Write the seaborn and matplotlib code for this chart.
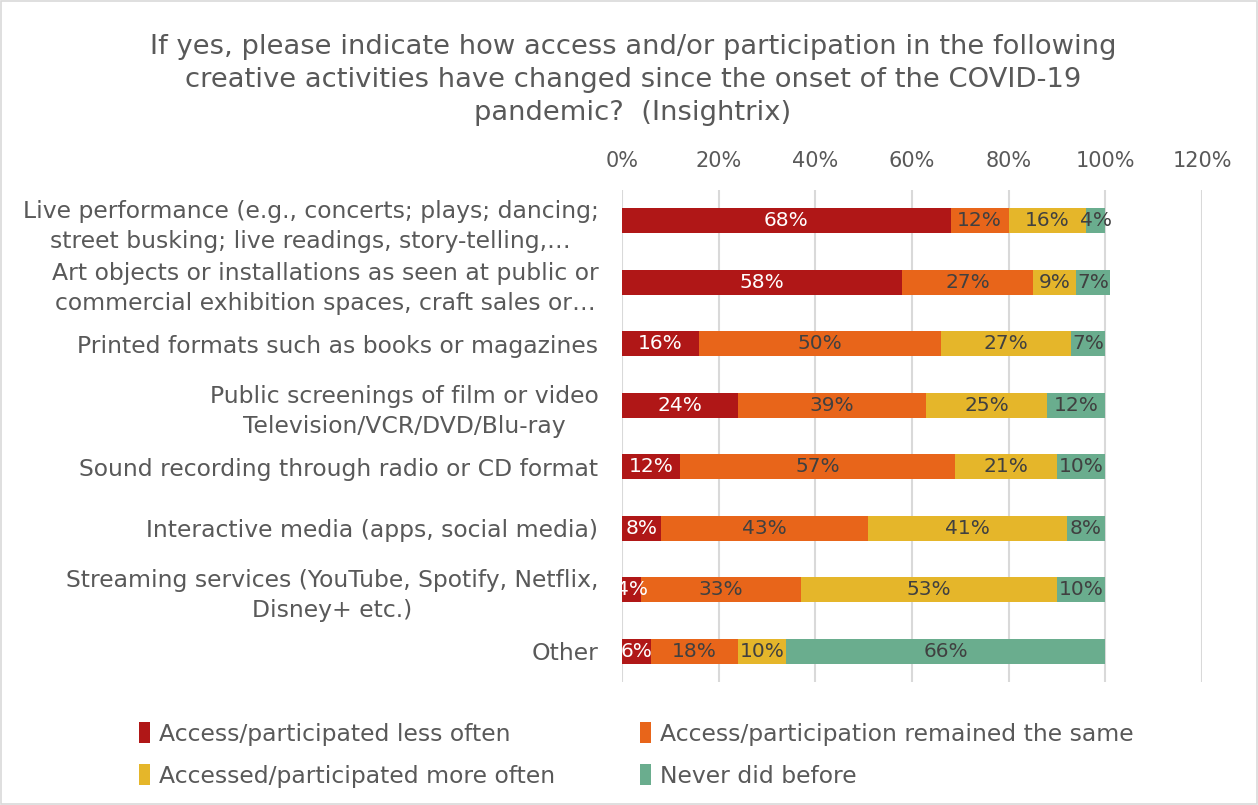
import matplotlib
matplotlib.use("Agg")
import matplotlib.pyplot as plt
from matplotlib.patches import Rectangle, Patch
import numpy as np
import pandas as pd
import seaborn as sns

categories = [
    "Live performance (e.g., concerts; plays; dancing;\nstreet busking; live readings, story-telling,\u2026",
    "Art objects or installations as seen at public or\ncommercial exhibition spaces, craft sales or\u2026",
    "Printed formats such as books or magazines",
    "Public screenings of film or video\nTelevision/VCR/DVD/Blu-ray",
    "Sound recording through radio or CD format",
    "Interactive media (apps, social media)",
    "Streaming services (YouTube, Spotify, Netflix,\nDisney+ etc.)",
    "Other",
]
series_names = [
    "Access/participated less often",
    "Access/participation remained the same",
    "Accessed/participated more often",
    "Never did before",
]
less_often = [68, 58, 16, 24, 12, 8, 4, 6]
remained_same = [12, 27, 50, 39, 57, 43, 33, 18]
more_often = [16, 9, 27, 25, 21, 41, 53, 10]
never_before = [4, 7, 7, 12, 10, 8, 10, 66]
x_ticks = [0, 20, 40, 60, 80, 100, 120]

colors = ["#B01717", "#E8651A", "#E5B62A", "#6AAD8E"]
label_colors = ["white", "#404040", "#404040", "#404040"]
TEXT = "#595959"
FONT = "DejaVu Sans"

sns.set_theme(style="white")
plt.rcParams["font.family"] = [FONT]

values = np.array([less_often, remained_same, more_often, never_before], dtype=float)
cum = np.cumsum(values, axis=0)

fig = plt.figure(figsize=(12.58, 8.05), dpi=100)
ax = fig.add_axes([622 / 1258, 1 - 682 / 805, 580 / 1258, 492 / 805])

# Stacked bars: draw cumulative totals from the outermost layer inward
for k in range(3, -1, -1):
    df = pd.DataFrame({"category": categories, "value": cum[k]})
    sns.barplot(data=df, y="category", x="value", orient="h", color=colors[k],
                saturation=1, width=0.41, ax=ax, zorder=3, linewidth=0)

# Segment labels
for k in range(4):
    starts = cum[k] - values[k]
    for i in range(len(categories)):
        v = values[k][i]
        ax.text(starts[i] + v / 2, i, f"{int(v)}%", ha="center", va="center",
                color=label_colors[k], fontsize=14.5, zorder=5)

ax.set_xlim(0, 120)
ax.set_ylim(len(categories) - 0.5, -0.5)
ax.set_xticks(x_ticks)
ax.set_xticklabels([f"{t}%" for t in x_ticks])
ax.xaxis.tick_top()
ax.tick_params(axis="x", length=0, pad=14, labelsize=15, colors=TEXT)
ax.tick_params(axis="y", length=0, pad=17, labelsize=16.9, colors=TEXT)
for lab in ax.get_yticklabels():
    lab.set_multialignment("center")
    lab.set_linespacing(1.4)
ax.set_xlabel("")
ax.set_ylabel("")
ax.grid(axis="x", color="#D9D9D9", linewidth=1.5, zorder=0)
ax.grid(axis="y", visible=False)
for s in ax.spines.values():
    s.set_visible(False)

fig.text(633 / 1258, 1 - 80 / 805,
         "If yes, please indicate how access and/or participation in the following\n"
         "creative activities have changed since the onset of the COVID-19\n"
         "pandemic?  (Insightrix)",
         ha="center", va="center", fontsize=19.7, color=TEXT, linespacing=1.33)

# Legend entries laid out row by row in two columns
order = [0, 2, 1, 3]
handles = [Patch(facecolor=colors[i], edgecolor="none") for i in order]
labels = [series_names[i] for i in order]
fig.legend(handles, labels, loc="center", bbox_to_anchor=(0.506, 1 - 755 / 805),
           ncol=2, frameon=False, fontsize=16.9, labelcolor=TEXT,
           handlelength=0.45, handleheight=1.0, handletextpad=0.4,
           columnspacing=3.6, labelspacing=0.8)

fig.patches.append(Rectangle((0.001, 0.001), 0.998, 0.998, transform=fig.transFigure,
                             fill=False, edgecolor="#D9D9D9", linewidth=1.2))

fig.savefig("out.png", dpi=100)
